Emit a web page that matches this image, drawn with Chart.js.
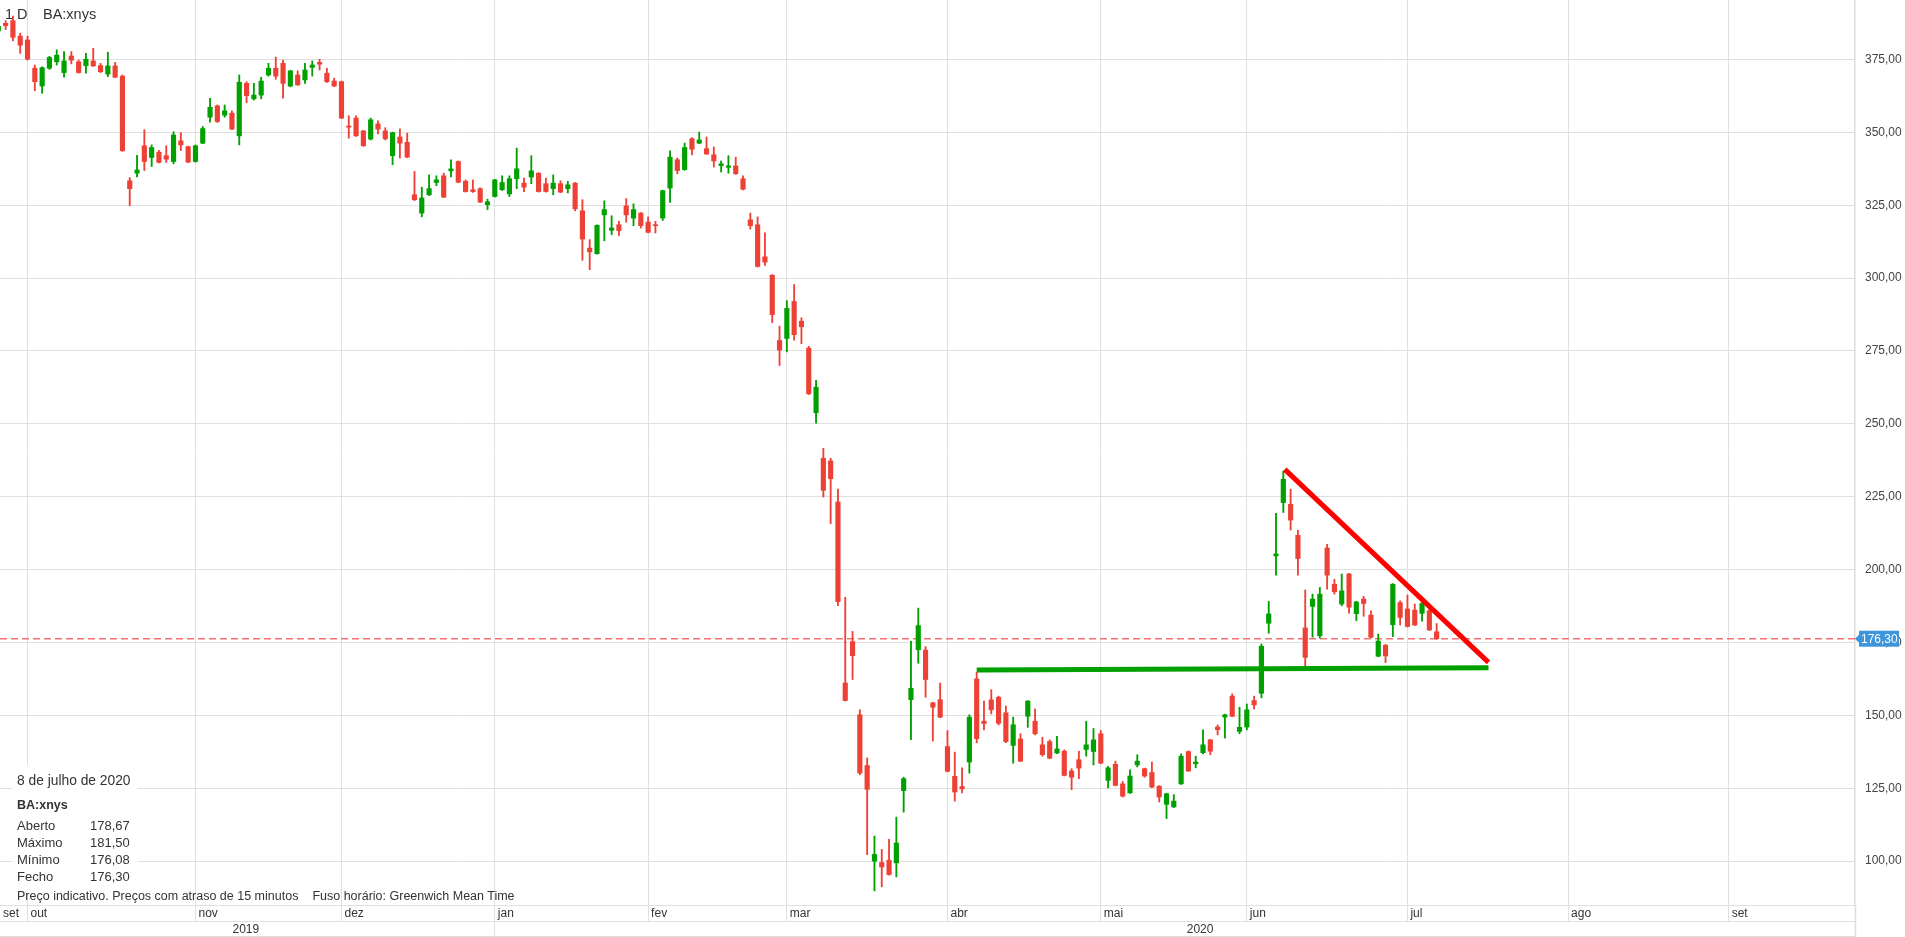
<!DOCTYPE html>
<html><head><meta charset="utf-8">
<script src="https://cdn.jsdelivr.net/npm/chart.js@4.4.1/dist/chart.umd.min.js"></script>
<style>
html,body{margin:0;padding:0;background:#fff;overflow:hidden;}
#wrap{position:relative;width:1905px;height:937px;font-family:"Liberation Sans",Arial,sans-serif;color:#333;}
#c{position:absolute;left:0;top:0;}
.t{position:absolute;white-space:pre;line-height:1;}
#info{position:absolute;left:12px;top:765px;width:126px;height:127px;background:rgba(255,255,255,0.92);}
</style></head><body>
<div id="wrap">
<canvas id="c" width="1905" height="937"></canvas>
<div id="info"></div>
<div class="t" style="left:5px;top:7px;font-size:14.5px">1 D</div>
<div class="t" style="left:43px;top:7px;font-size:14.5px">BA:xnys</div>
<div class="t" style="left:17px;top:774px;font-size:13.8px">8 de julho de 2020</div>
<div class="t" style="left:17px;top:799px;font-size:12.5px;font-weight:bold">BA:xnys</div>
<div class="t" style="left:17px;top:818.5px;font-size:13px">Aberto</div>
<div class="t" style="left:90px;top:818.5px;font-size:13px">178,67</div>
<div class="t" style="left:17px;top:835.5px;font-size:13px">Máximo</div>
<div class="t" style="left:90px;top:835.5px;font-size:13px">181,50</div>
<div class="t" style="left:17px;top:852.5px;font-size:13px">Mínimo</div>
<div class="t" style="left:90px;top:852.5px;font-size:13px">176,08</div>
<div class="t" style="left:17px;top:869.5px;font-size:13px">Fecho</div>
<div class="t" style="left:90px;top:869.5px;font-size:13px">176,30</div>
<div class="t" style="left:17px;top:890px;font-size:12.5px">Preço indicativo. Preços com atraso de 15 minutos<span style="margin-left:14px">Fuso horário: Greenwich Mean Time</span></div>
</div>
<script>
// ---- data (trading-day index 0 = 1 Oct 2019) ----
const FIRST_DAY = -4;
const opens = [384.8,387.4,388.3,383.0,381.7,372.0,365.9,372.0,374.2,370.5,376.2,374.2,372.9,374.5,372.9,370.0,372.8,369.3,333.4,336.0,345.4,341.4,343.2,342.0,340.0,347.1,345.1,340.0,346.3,355.2,359.1,355.9,356.6,348.8,366.8,361.5,362.8,369.7,372.0,373.7,365.9,369.7,368.0,372.3,374.0,370.3,367.6,367.4,352.2,354.9,350.5,347.7,352.9,350.5,342.0,348.4,346.6,328.6,322.3,328.6,332.8,335.1,336.8,340.0,333.2,330.3,330.7,325.2,328.0,330.3,328.9,334.1,332.6,334.7,336.0,332.4,330.7,332.4,330.7,332.6,323.1,310.3,308.4,321.7,316.4,318.3,324.8,320.6,322.3,319.2,318.3,320.6,330.9,340.6,337.2,347.8,346.3,344.4,342.3,338.6,338.0,338.5,334.1,320.0,318.3,307.3,301.0,278.6,279.3,292.0,285.2,276.0,253.8,238.2,237.3,223.2,161.1,175.3,150.2,132.8,100.0,99.5,100.3,99.4,124.2,155.4,172.5,172.4,154.3,155.4,139.3,129.1,125.6,134.0,162.5,148.0,155.3,156.2,150.9,139.7,141.9,149.7,148.0,139.9,141.0,137.1,137.7,130.9,134.8,138.3,137.6,143.7,127.7,133.2,126.5,123.4,133.0,131.7,130.4,125.7,119.5,118.6,126.5,137.6,133.4,137.2,141.6,146.0,149.4,156.6,144.5,146.0,155.1,157.6,181.6,204.7,223.0,222.4,211.8,180.0,187.4,177.3,207.4,195.0,188.2,198.5,184.9,189.9,184.4,170.3,174.1,181.1,188.7,186.5,186.1,185.0,185.9,178.67];
const highs = [387.5,388.3,389.9,384.0,383.0,373.1,372.5,376.1,378.3,377.7,377.7,374.8,377.1,378.8,373.7,377.5,374.0,369.7,334.5,342.1,350.9,345.7,343.8,345.4,350.2,349.9,345.3,345.7,352.0,361.7,359.4,359.4,357.4,369.7,367.4,366.8,368.9,373.7,375.8,374.8,371.3,371.1,373.7,374.5,375.1,372.0,368.6,367.6,355.7,355.7,350.7,354.9,354.0,351.6,350.1,351.2,349.7,336.6,331.2,335.4,335.1,336.0,340.6,340.2,333.7,333.7,331.0,327.1,333.9,335.1,335.1,344.6,334.3,342.0,336.2,334.3,335.4,333.4,333.2,332.8,326.9,313.2,318.3,326.5,321.4,319.5,327.3,325.5,322.5,321.0,319.5,330.2,343.7,341.2,346.3,348.2,350.1,348.4,345.0,340.2,342.0,341.5,335.1,322.3,321.0,315.5,301.2,283.5,292.3,297.8,286.4,276.6,264.9,241.6,238.2,227.6,190.5,178.8,151.9,135.4,108.6,104.0,107.5,115.1,128.8,175.4,186.8,173.6,154.5,161.1,144.8,137.4,132.0,150.2,164.8,154.9,158.8,156.6,153.2,149.4,143.7,155.1,152.2,142.5,141.6,142.8,138.2,131.7,137.7,148.0,145.5,144.8,132.5,134.3,127.3,131.3,136.5,131.9,134.0,125.9,123.3,122.8,136.8,137.8,136.0,145.0,141.8,146.7,150.4,157.4,152.8,153.9,156.6,174.5,189.1,219.3,233.8,227.6,213.5,193.0,191.6,193.9,208.7,196.7,198.5,198.7,189.1,190.8,185.9,177.9,174.3,195.2,189.3,191.3,188.2,189.7,186.7,181.50];
const lows = [383.5,385.3,381.4,377.1,374.8,364.3,363.4,371.6,373.1,368.9,373.5,370.3,370.3,372.6,370.5,369.1,368.8,343.5,324.8,334.7,336.9,338.3,339.5,339.7,339.2,343.8,339.6,339.8,346.1,353.5,353.4,355.2,350.9,345.7,360.2,361.1,361.5,369.3,368.2,361.7,365.6,366.1,366.8,369.3,371.4,367.1,365.7,354.7,348.0,348.6,345.2,347.4,349.5,347.4,338.9,341.2,341.3,326.6,321.0,328.3,331.7,327.6,334.7,332.7,329.5,329.4,325.9,323.5,327.8,330.1,328.0,330.7,329.7,332.4,329.5,329.5,328.6,329.3,329.2,323.1,306.1,302.9,308.2,312.8,314.9,314.6,319.2,318.0,317.2,315.5,315.5,319.8,326.0,335.8,337.0,342.3,346.1,342.4,338.1,336.4,336.0,335.6,330.3,316.8,303.8,304.4,284.7,270.0,274.7,278.7,277.5,260.1,250.2,224.9,215.8,187.6,154.9,162.3,129.6,102.2,89.8,91.2,95.2,94.6,116.8,141.7,167.9,156.2,141.2,149.2,130.6,120.6,123.4,130.2,140.6,145.0,150.5,146.7,140.6,133.6,134.1,145.9,143.3,136.0,135.1,136.9,129.2,124.5,128.3,136.0,133.0,133.4,125.1,125.8,122.0,123.2,132.3,128.8,125.2,120.3,114.6,118.4,126.3,130.8,132.0,136.8,136.5,143.3,142.2,149.5,143.7,145.0,152.2,156.0,178.2,198.1,219.6,213.6,198.1,166.7,176.8,176.5,193.3,191.6,187.6,185.1,182.5,184.0,176.6,170.1,168.1,177.0,181.0,180.3,180.8,182.3,179.1,176.08];
const closes = [386.4,386.6,382.6,379.9,375.1,367.4,372.2,375.7,376.5,374.5,374.8,370.5,375.1,372.8,370.8,372.8,368.9,343.7,330.7,337.1,340.0,344.8,339.7,340.8,349.1,345.7,339.8,345.4,351.3,358.6,353.7,357.4,351.1,367.2,362.6,362.8,367.6,372.0,369.3,366.8,371.1,366.3,371.4,373.1,373.4,367.4,365.9,354.9,351.8,348.8,345.4,354.3,351.1,347.8,349.9,346.3,341.5,326.9,327.5,330.7,333.7,327.8,337.5,332.9,329.7,329.7,326.1,326.2,333.7,332.8,334.1,337.5,331.2,336.8,329.7,329.7,332.6,329.5,332.0,323.8,313.4,309.0,318.1,323.5,317.2,316.3,321.7,323.5,318.0,315.7,318.0,330.0,341.5,336.9,344.8,344.2,347.4,342.6,340.2,339.2,338.5,335.8,330.5,318.0,304.0,305.5,287.5,275.3,289.6,280.6,283.3,260.3,262.6,227.2,231.2,189.0,155.1,170.5,130.2,124.6,102.3,98.0,95.4,106.2,128.3,159.3,180.8,162.3,152.8,149.4,130.8,123.7,124.8,149.4,142.0,147.2,151.9,147.3,141.0,146.8,134.3,154.9,143.7,136.5,135.3,138.5,129.4,128.8,131.9,139.9,141.6,133.6,132.0,126.0,122.3,129.2,134.3,129.2,125.4,122.0,123.1,120.6,136.0,130.9,134.0,139.9,137.7,145.1,150.2,149.7,145.9,151.9,153.6,173.7,184.8,205.4,231.0,217.0,203.8,169.9,189.9,191.6,198.1,192.4,192.7,187.1,188.9,188.4,176.8,175.5,170.4,195.0,183.6,180.5,181.0,188.4,179.3,176.30];

const monthTickIdx = [-3.77, 0, 23, 43, 64, 85, 104, 126, 147, 167, 189, 211, 233];
const monthLabels  = ['set','out','nov','dez','jan','fev','mar','abr','mai','jun','jul','ago','set'];
const yearTickIdx  = [29.9, 64, 160.6];
const yearLabels   = ['2019', '', '2020'];
const priceTicks   = [100,125,150,175,200,225,250,275,300,325,350,375];
const lastPrice    = 176.30;
const resistanceLine = [{x:172.2, y:234.4}, {x:200.1, y:168.2}];
const supportLine    = [{x:130.0, y:165.6}, {x:200.1, y:166.3}];

const X_MIN = -3.77, X_MAX = 250.3, Y_MIN = 84.95, Y_MAX = 395.41;
const UP = '#00a000', DOWN = '#ee4136', GRID = '#e0e0e0';

const bodies = opens.map((o,i)=>({x: FIRST_DAY+i, y:[o, closes[i]]}));
const wicks  = opens.map((o,i)=>({x: FIRST_DAY+i, y:[lows[i], highs[i]]}));
const colorAt = i => closes[i] >= opens[i] ? UP : DOWN;
const fmt = v => Number(v).toFixed(2).replace('.', ',');

Chart.defaults.font.family = '"Liberation Sans", Arial, sans-serif';
Chart.defaults.font.size = 12;

const extras = {
  id: 'extras',
  afterDraw(chart){
    const ctx = chart.ctx, ca = chart.chartArea;
    const y = chart.scales.y.getPixelForValue(lastPrice);
    ctx.save();
    ctx.strokeStyle = '#dcdcdc'; ctx.lineWidth = 1.5;
    ctx.beginPath(); ctx.moveTo(ca.right+0.5, ca.bottom); ctx.lineTo(ca.right+0.5, chart.height); ctx.stroke();
    ctx.lineWidth = 1;
    ctx.beginPath(); ctx.moveTo(0, chart.height-0.5); ctx.lineTo(ca.right, chart.height-0.5); ctx.stroke();
    ctx.fillStyle = '#3d95db';
    ctx.beginPath(); ctx.moveTo(ca.right, y); ctx.lineTo(ca.right+4, y-4); ctx.lineTo(ca.right+4, y+4); ctx.closePath(); ctx.fill();
    ctx.fillRect(ca.right+4, y-8, 40, 16);
    ctx.fillStyle = '#fff'; ctx.font = '12px "Liberation Sans", Arial'; ctx.textBaseline = 'middle'; ctx.textAlign = 'left';
    ctx.fillText(fmt(lastPrice), ca.right+6, y+1);
    ctx.restore();
  }
};

new Chart(document.getElementById('c'), {
  type: 'bar',
  data: { datasets: [
    {type:'line', data:resistanceLine, borderColor:'#ff0000', borderWidth:5, pointRadius:0, order:0, borderCapStyle:'butt'},
    {type:'line', data:supportLine, borderColor:'#00a000', borderWidth:5, pointRadius:0, order:1, borderCapStyle:'butt'},
    {type:'bar', data:bodies, backgroundColor:c=>colorAt(c.dataIndex), barThickness:4.5, minBarLength:1, grouped:false, order:2, borderWidth:0},
    {type:'bar', data:wicks, backgroundColor:c=>colorAt(c.dataIndex), barThickness:1.2, grouped:false, order:3, borderWidth:0},
    {type:'line', data:[{x:X_MIN,y:lastPrice},{x:X_MAX,y:lastPrice}], borderColor:'rgba(240,100,100,0.9)', borderWidth:1.5, borderDash:[7,4], pointRadius:0, order:4}
  ]},
  options: {
    responsive:false, animation:false, events:[],
    layout:{padding:0},
    plugins:{legend:{display:false}, tooltip:{enabled:false}},
    scales:{
      x:{type:'linear', position:'bottom', weight:0, min:X_MIN, max:X_MAX, offset:false,
        afterBuildTicks:s=>{ s.ticks = monthTickIdx.map(v=>({value:v})); },
        afterFit:s=>{ s.height = 16; s.paddingLeft = 0; s.paddingRight = 0; },
        ticks:{autoSkip:false, maxRotation:0, minRotation:0, align:'start', labelOffset:3, padding:-15, color:'#333',
          callback:(v,i)=>monthLabels[i]},
        grid:{offset:false, color:c=>c.index===0?'rgba(0,0,0,0)':GRID, lineWidth:1, tickLength:16, drawTicks:true},
        border:{display:true, color:GRID}
      },
      x2:{type:'linear', position:'bottom', weight:1, min:X_MIN, max:X_MAX, offset:false,
        afterBuildTicks:s=>{ s.ticks = yearTickIdx.map(v=>({value:v})); },
        afterFit:s=>{ s.height = 16; s.paddingLeft = 0; s.paddingRight = 0; },
        ticks:{autoSkip:false, maxRotation:0, minRotation:0, align:'center', padding:-15, color:'#333',
          callback:(v,i)=>yearLabels[i]},
        grid:{offset:false, drawOnChartArea:false, tickLength:16, color:c=>(yearLabels[c.index]==='')?GRID:'rgba(0,0,0,0)'},
        border:{display:true, color:GRID}
      },
      y:{type:'linear', position:'right', min:Y_MIN, max:Y_MAX, beginAtZero:false,
        afterBuildTicks:s=>{ s.ticks = priceTicks.map(v=>({value:v})); },
        afterFit:s=>{ s.width = 50; s.paddingTop = 0; s.paddingBottom = 0; },
        ticks:{padding:10, color:'#444', callback:v=>fmt(v)},
        grid:{color:GRID, drawTicks:false},
        border:{display:true, color:'#dcdcdc', width:1.5}
      }
    }
  },
  plugins:[extras]
});
</script>
</body></html>
